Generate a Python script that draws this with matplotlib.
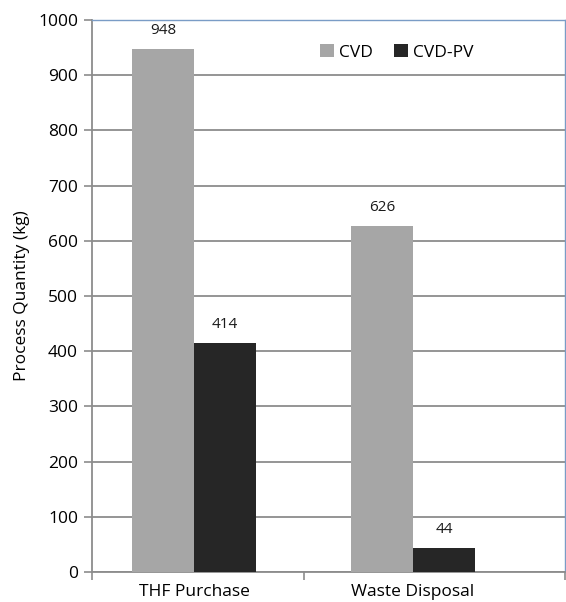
import numpy as np
import matplotlib
matplotlib.use('Agg')
import matplotlib.pyplot as plt

categories = ['THF Purchase', 'Waste Disposal']
series_names = ['CVD', 'CVD-PV']
cvd = [948, 626]
cvd_pv = [414, 44]
yticks = [0, 100, 200, 300, 400, 500, 600, 700, 800, 900, 1000]

plt.rcParams['font.family'] = ['Open Sans', 'DejaVu Sans']

fig = plt.figure(figsize=(5.66, 6.02), dpi=100)
ax = fig.add_axes([92 / 566, 30 / 602, 473 / 566, 552 / 602])

x = np.arange(len(categories))
w = 0.283
b1 = ax.bar(x - w / 2, cvd, w, color='#a6a6a6', label=series_names[0], zorder=3)
b2 = ax.bar(x + w / 2, cvd_pv, w, color='#262626', label=series_names[1], zorder=3)

for bars, vals in [(b1, cvd), (b2, cvd_pv)]:
    for r, v in zip(bars, vals):
        ax.annotate(str(v), (r.get_x() + r.get_width() / 2, v),
                    xytext=(0, 8), textcoords='offset points',
                    ha='center', va='bottom', fontsize=11, color='#1a1a1a')

ax.set_xlim(-0.466, 1.694)
ax.set_ylim(0, 1000)
ax.set_yticks(yticks)
ax.yaxis.grid(True, color='#8c8c8c', lw=1.3, zorder=0)
ax.set_axisbelow(True)

ax.set_xticks(x)
ax.set_xticklabels(categories, fontsize=12.5)
ax.set_xticks([-0.466, 0.5, 1.694], minor=True)
ax.tick_params(axis='x', which='major', length=0, pad=9)
ax.tick_params(axis='x', which='minor', length=6, color='#8c8c8c', width=1.2)
ax.tick_params(axis='y', length=6, color='#8c8c8c', width=1.2, labelsize=12.5, pad=4)

for s in ['left', 'bottom']:
    ax.spines[s].set_color('#8c8c8c')
    ax.spines[s].set_linewidth(1.3)
for s in ['top', 'right']:
    ax.spines[s].set_color('#7a9cc6')
    ax.spines[s].set_linewidth(1.0)

ax.set_ylabel('Process Quantity (kg)', fontsize=12.5, labelpad=6)

ax.legend(loc='upper right', bbox_to_anchor=(0.84, 0.985), ncol=2, frameon=False,
          fontsize=12.5, handlelength=0.8, handleheight=0.8, handletextpad=0.3,
          columnspacing=1.2)

fig.savefig('out.png', dpi=100)
